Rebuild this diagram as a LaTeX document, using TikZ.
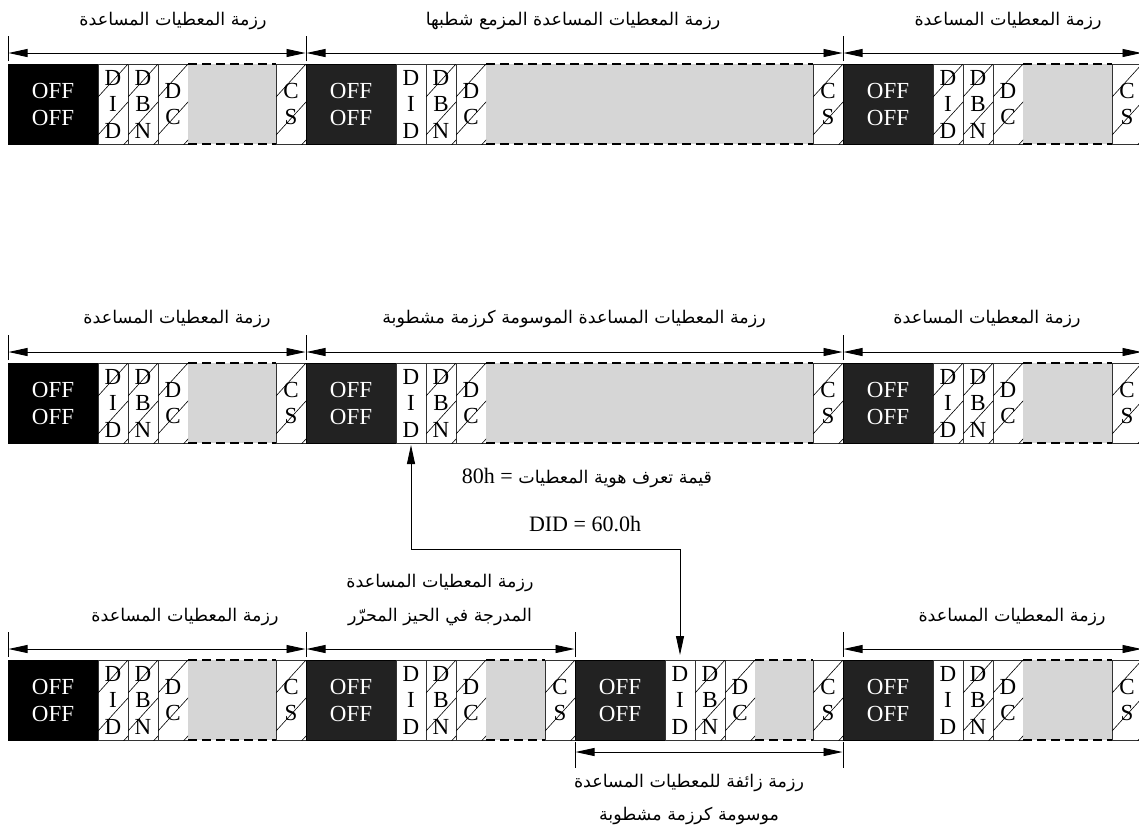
\documentclass[tikz,border=0pt]{standalone}
\usepackage{fontspec}
\setmainfont{Liberation Serif}
\newfontfamily\arabicfont[Script=Arabic]{DejaVu Sans}
\TeXXeTstate=1
\usetikzlibrary{arrows.meta,calc}
\definecolor{offdark}{HTML}{222222}
\definecolor{datagray}{HTML}{D6D6D6}
\tikzset{
  cellbox/.style={draw=black!80, line width=0.8pt, fill=white, minimum width=30pt, minimum height=80pt, inner sep=0pt, outer sep=0pt, anchor=north west, align=center, font=\fontsize{23}{26.5}\selectfont},
  offbox/.style={draw=black, line width=0.8pt, minimum width=90pt, minimum height=80pt, inner sep=0pt, outer sep=0pt, anchor=north west, align=center, text=white, font=\fontsize{23}{27}\selectfont},
  graybox/.style={fill=datagray, minimum height=80pt, inner sep=0pt, outer sep=0pt, anchor=north west},
  dashedge/.style={line width=1.5pt, dash pattern=on 9pt off 5pt},
  hatchline/.style={line width=0.6pt, black},
  dimline/.style={line width=0.9pt, {Triangle[length=19pt,width=8pt]}-{Triangle[length=19pt,width=8pt]}, shorten <=0.5pt, shorten >=0.5pt},
  connline/.style={line width=0.9pt, {Triangle[length=19pt,width=8pt]}-{Triangle[length=19pt,width=8pt]}, shorten <=2pt, shorten >=5pt},
  tickst/.style={line width=0.8pt},
  lbl/.style={font=\arabicfont\fontsize{17.5}{21}\selectfont, anchor=base, inner sep=0pt},
  latinlbl/.style={font=\fontsize{22}{26}\selectfont, anchor=base, inner sep=0pt},
}
\newcommand\hatchcell[1]{%
  \begin{scope}
    \clip (#1.south west) rectangle (#1.north east);
    \foreach \hh in {33,71,109}{\draw[hatchline] ($(#1.north west)+(0,\hh)$) -- ++(40,-44);}
  \end{scope}}
\newcommand\pkt[6]{%
  \node[offbox, fill=#5] (#1off) at (#2,#3) {OFF\\OFF};
  \node[cellbox] (#1did) at (#2+90,#3) {D\\I\\D};
  \node[cellbox] (#1dbn) at (#2+120,#3) {D\\B\\N};
  \node[cellbox] (#1dc) at (#2+150,#3) {D\\C};
  \node[graybox, minimum width=#4pt] (#1dat) at (#2+180,#3) {};
  \node[cellbox] (#1cs) at (#2+180+#4,#3) {C\\S};
  \draw[dashedge] (#1dat.north west) -- (#1dat.north east);
  \draw[dashedge] (#1dat.south west) -- (#1dat.south east);
  \ifnum#6=1 \hatchcell{#1did}\fi
  \hatchcell{#1dbn}\hatchcell{#1dc}\hatchcell{#1cs}}
\newcommand\dimabove[2]{\draw[dimline] ([yshift=11pt]#1off.north west) -- ([yshift=11pt]#2cs.north east);}
\newcommand\tickabove[1]{\draw[tickst] ([yshift=3pt]#1) -- ([yshift=28pt]#1);}
\begin{document}
\begin{tikzpicture}[x=1pt,y=-1pt]
\useasboundingbox (0,0) rectangle (1139,831);
% row 1
\pkt{ra}{8}{64}{88}{black}{1}
\pkt{rb}{306}{64}{327}{offdark}{0}
\pkt{rc}{843}{64}{89}{offdark}{1}
\dimabove{ra}{ra}\dimabove{rb}{rb}\dimabove{rc}{rc}
\tickabove{raoff.north west}\tickabove{rboff.north west}\tickabove{rcoff.north west}\tickabove{rccs.north east}
\node[lbl] (la1) at (173,25) {\beginR رزمة المعطيات المساعدة\endR};
\node[lbl] (lb1) at (573,25) {\beginR رزمة المعطيات المساعدة المزمع شطبها\endR};
\node[lbl] (lc1) at (1008,25) {\beginR رزمة المعطيات المساعدة\endR};
% row 2
\pkt{sa}{8}{363}{88}{black}{1}
\pkt{sb}{306}{363}{327}{offdark}{0}
\pkt{sc}{843}{363}{89}{offdark}{1}
\dimabove{sa}{sa}\dimabove{sb}{sb}\dimabove{sc}{sc}
\tickabove{saoff.north west}\tickabove{sboff.north west}\tickabove{scoff.north west}\tickabove{sccs.north east}
\node[lbl] (la2) at (177,323) {\beginR رزمة المعطيات المساعدة\endR};
\node[lbl] (lb2) at (574,323) {\beginR رزمة المعطيات المساعدة الموسومة كرزمة مشطوبة\endR};
\node[lbl] (lc2) at (987,323) {\beginR رزمة المعطيات المساعدة\endR};
% row 3
\pkt{ta}{8}{660}{88}{black}{1}
\pkt{tb}{306}{660}{59}{offdark}{0}
\pkt{tc}{575}{660}{58}{offdark}{0}
\pkt{td}{843}{660}{89}{offdark}{0}
\dimabove{ta}{ta}\dimabove{tb}{tb}\dimabove{td}{td}
\tickabove{taoff.north west}\tickabove{tboff.north west}\tickabove{tcoff.north west}\tickabove{tdoff.north west}\tickabove{tdcs.north east}
\draw[dimline] ([yshift=-12pt]tcoff.south west) -- ([yshift=-12pt]tccs.south east);
\draw[tickst] ([yshift=-2pt]tcoff.south west) -- ([yshift=-28pt]tcoff.south west);
\draw[tickst] ([yshift=-2pt]tccs.south east) -- ([yshift=-28pt]tccs.south east);
\node[lbl] (la3) at (185,621) {\beginR رزمة المعطيات المساعدة\endR};
\node[lbl] (lb3a) at (440,587) {\beginR رزمة المعطيات المساعدة\endR};
\node[lbl] (lb3b) at (440,621) {\beginR المدرجة في الحيز المحرّر\endR};
\node[lbl] (ld3) at (1012,621) {\beginR رزمة المعطيات المساعدة\endR};
\node[lbl] (lc3a) at (689,787) {\beginR رزمة زائفة للمعطيات المساعدة\endR};
\node[lbl] (lc3b) at (689,820) {\beginR موسومة كرزمة مشطوبة\endR};
% connector
\coordinate (bend) at (0,549);
\draw[connline] (sbdid.south) -- (sbdid.south |- bend) -| (tcdid.north);
\node[lbl] (val) at (587,483) {\beginR قيمة تعرف هوية المعطيات {\fontsize{22}{26}\rmfamily = \beginL 80h\endL}\endR};
\node[latinlbl] (did) at (585,531) {DID = 60.0h};
\end{tikzpicture}
\end{document}
